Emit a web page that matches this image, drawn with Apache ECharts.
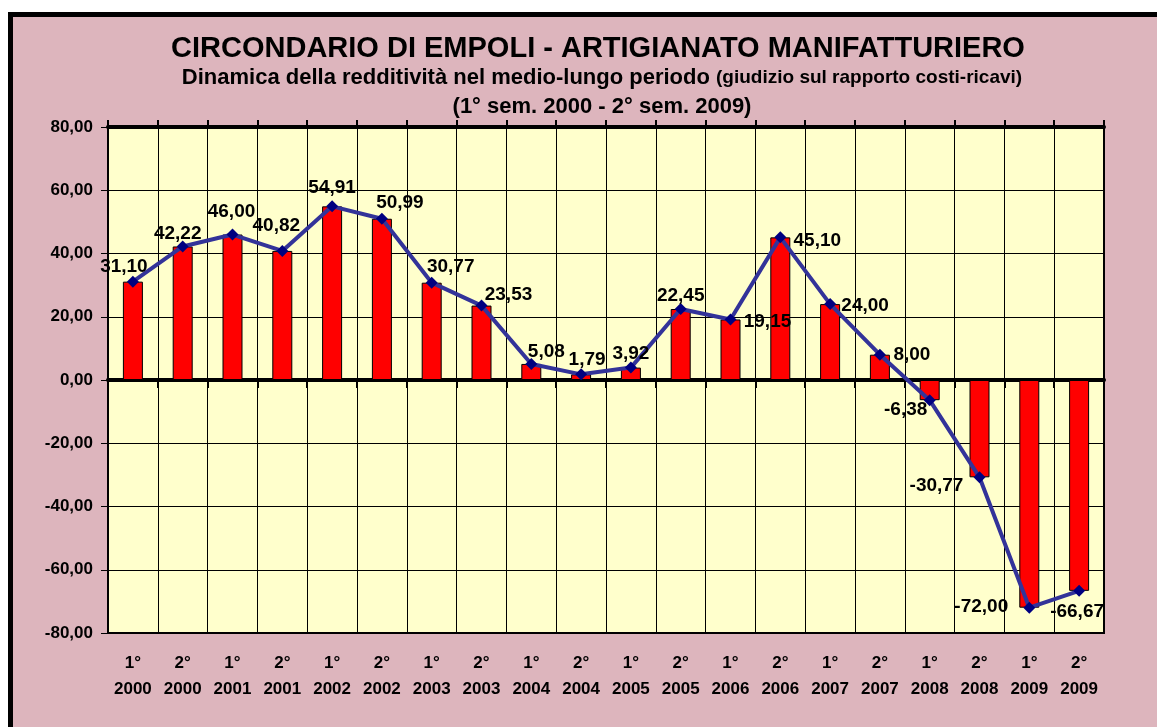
<!DOCTYPE html>
<html>
<head>
<meta charset="utf-8">
<script src="https://cdn.jsdelivr.net/npm/echarts@6/dist/echarts.min.js"></script>
<style>
    html, body { margin: 0; padding: 0; background: #fff; }
    #chart { width: 1157px; height: 727px; }
</style>
</head>
<body>
<div id="chart"></div>
<script>
    // semestri e valori (giudizio sul rapporto costi-ricavi)
    var semestri = ['1°', '2°', '1°', '2°', '1°', '2°', '1°', '2°', '1°', '2°',
        '1°', '2°', '1°', '2°', '1°', '2°', '1°', '2°', '1°', '2°'];
    var anni = ['2000', '2000', '2001', '2001', '2002', '2002', '2003', '2003', '2004', '2004',
        '2005', '2005', '2006', '2006', '2007', '2007', '2008', '2008', '2009', '2009'];
    var valori = [31.10, 42.22, 46.00, 40.82, 54.91, 50.99, 30.77, 23.53, 5.08, 1.79,
        3.92, 22.45, 19.15, 45.10, 24.00, 8.00, -6.38, -30.77, -72.00, -66.67];

    // spostamento delle etichette rispetto al punto
    var labelOffset = [[-9, -15], [-5, -13], [-1, -23], [-6, -25], [0, -19], [18, -16], [19, -16],
        [27, -11], [15, -12], [6, -15], [0, -14], [0, -13], [37, 2], [37, 3], [35, 2], [32, 0],
        [-24, 10], [-43, 8], [-48, -1], [-2, 21]];

    var font = 'Arial, "Liberation Sans", sans-serif';
    var fmt = function (v) {
        return Number(v).toFixed(2).replace('.', ',');
    };

    var categorie = semestri.map(function (s, i) {
        return s + '\n' + anni[i];
    });

    var chart = echarts.init(document.getElementById('chart'));

    chart.setOption({
        backgroundColor: '#ffffff',
        animation: false,
        textStyle: { fontFamily: font },
        graphic: [{
            type: 'rect',
            z: -10,
            shape: { x: 10.5, y: 14.5, width: 1200, height: 800 },
            style: { fill: '#ddb5bd', stroke: '#000', lineWidth: 5 }
        }],
        title: [{
            text: 'CIRCONDARIO DI EMPOLI - ARTIGIANATO MANIFATTURIERO',
            left: 593,
            textAlign: 'center',
            top: 29,
            textStyle: { fontFamily: font, fontSize: 29, fontWeight: 'bold', color: '#000' }
        }, {
            text: 'Dinamica della redditività nel medio-lungo periodo {s|(giudizio sul rapporto costi-ricavi)}',
            left: 597,
            textAlign: 'center',
            top: 62,
            textStyle: {
                fontFamily: font, fontSize: 22, fontWeight: 'bold', color: '#000',
                rich: { s: { fontFamily: font, fontSize: 19, fontWeight: 'bold', color: '#000' } }
            }
        }, {
            text: '(1° sem. 2000 - 2° sem. 2009)',
            left: 597,
            textAlign: 'center',
            top: 91,
            textStyle: { fontFamily: font, fontSize: 22, fontWeight: 'bold', color: '#000' }
        }],
        grid: {
            left: 108,
            right: 53,
            top: 127,
            bottom: 94,
            show: true,
            backgroundColor: '#ffffcc',
            borderColor: '#000',
            borderWidth: 2
        },
        xAxis: [{
            type: 'category',
            data: categorie,
            position: 'bottom',
            axisLine: { show: false, onZero: false },
            axisTick: { show: false },
            splitLine: { show: true, lineStyle: { color: '#000', width: 1 } },
            axisLabel: {
                interval: 0,
                margin: 17,
                color: '#000',
                fontFamily: font,
                fontSize: 17,
                fontWeight: 'bold',
                lineHeight: 26
            }
        }, {
            type: 'category',
            data: categorie,
            position: 'bottom',
            axisLine: { show: true, onZero: true, lineStyle: { color: '#000', width: 4 } },
            axisTick: { show: true, length: 8, lineStyle: { color: '#000', width: 2 } },
            axisLabel: { show: false },
            splitLine: { show: false }
        }, {
            type: 'category',
            data: categorie,
            position: 'top',
            axisLine: { show: true, onZero: true, lineStyle: { color: '#000', width: 4 } },
            axisTick: { show: true, length: 7, lineStyle: { color: '#000', width: 2 } },
            axisLabel: { show: false },
            splitLine: { show: false }
        }],
        yAxis: {
            type: 'value',
            min: -80,
            max: 80,
            interval: 20,
            axisLine: { show: true, lineStyle: { color: '#000', width: 1 } },
            axisTick: { show: true, length: 7, lineStyle: { color: '#000' } },
            splitLine: { show: true, lineStyle: { color: '#000', width: 1 } },
            axisLabel: {
                margin: 15,
                color: '#000',
                fontFamily: font,
                fontSize: 17,
                fontWeight: 'bold',
                formatter: fmt
            }
        },
        series: [{
            type: 'bar',
            xAxisIndex: 0,
            barWidth: 20,
            itemStyle: { color: '#ff0000', borderColor: '#000', borderWidth: 1 },
            data: valori
        }, {
            type: 'line',
            xAxisIndex: 0,
            symbol: 'diamond',
            symbolSize: 12,
            z: 5,
            lineStyle: { color: '#333399', width: 4 },
            itemStyle: { color: '#000080' },
            data: valori.map(function (v, i) {
                return {
                    value: v,
                    label: {
                        show: true,
                        position: 'inside',
                        offset: labelOffset[i],
                        formatter: function (p) { return fmt(p.value); },
                        color: '#000',
                        fontFamily: font,
                        fontSize: 19,
                        fontWeight: 'bold',
                        textBorderWidth: 0
                    }
                };
            })
        }]
    });
</script>
</body>
</html>
